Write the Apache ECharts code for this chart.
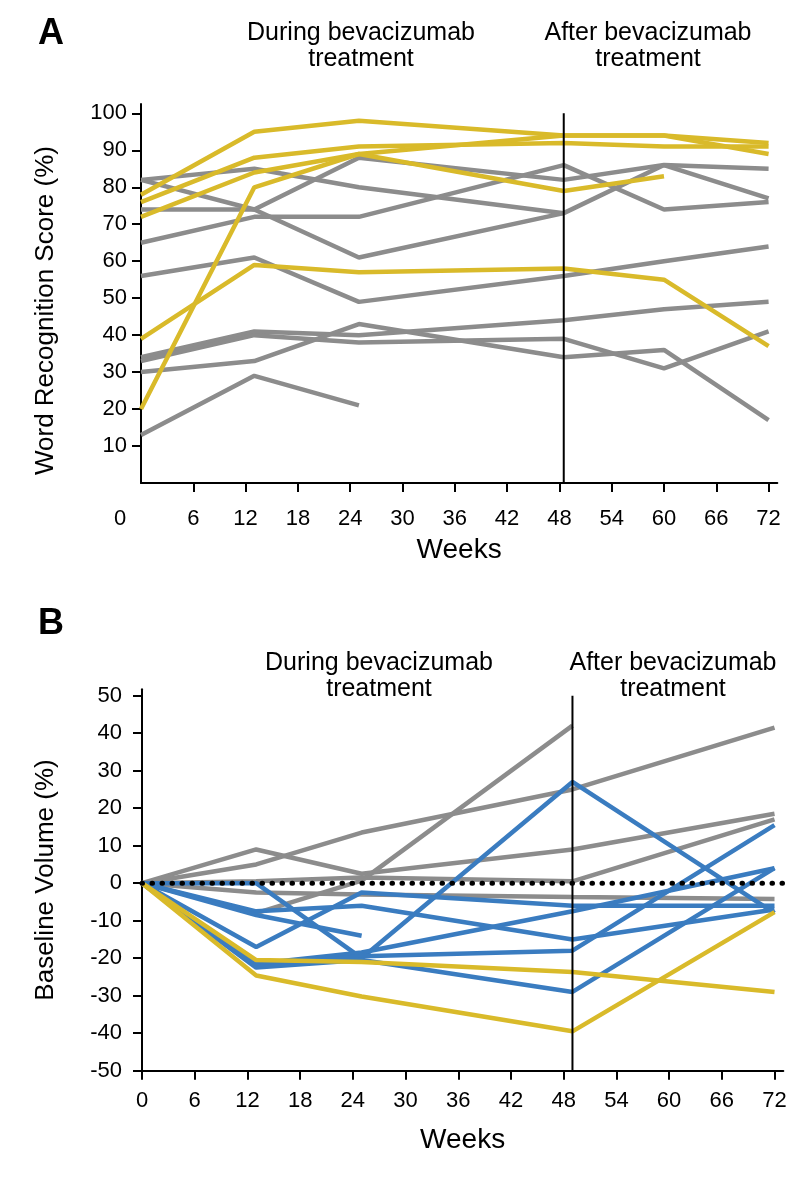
<!DOCTYPE html>
<html>
<head>
<meta charset="utf-8">
<script src="https://cdn.jsdelivr.net/npm/echarts@6/dist/echarts.min.js"></script>
<style>
html,body{margin:0;padding:0;background:#fff;}
#chart{width:809px;height:1179px;}
</style>
</head>
<body>
<div id="chart"></div>
<script>
// ---------- Panel A: word recognition score ----------
var weeksA = [0, 13, 25, 48.5, 60, 72];
var yellowA1 = [78, 95, 98, 94, 94, 92];
var yellowA2 = [76, 88, 91, 92, 91, 91];
var yellowA3 = [72, 84, 89, 94, 94, 89];
var yellowA4 = [20, 80, 89, 79, 83, null];
var yellowA5 = [39, 59, 57, 58, 55, 37];
var grayA1 = [82, 85, 80, 73, null, null];
var grayA2 = [82, 74, 61, 73, 86, 77];
var grayA3 = [74, 74, 88, 82, 86, 85];
var grayA4 = [65, 72, 72, 86, 74, 76];
var grayA5 = [56, 61, 49, 56, 60, 64];
var grayA6 = [34, 41, 40, 44, 47, 49];
var grayA7 = [33, 40, 38, 39, 31, 41];
var grayA8 = [30, 33, 43, 34, 36, 17];
var grayA9 = [13, 29, 21, null, null, null];
var yTicksA = [10, 20, 30, 40, 50, 60, 70, 80, 90, 100];
var xTicksA = [6, 12, 18, 24, 30, 36, 42, 48, 54, 60, 66, 72];
var xLabelsA = [0, 6, 12, 18, 24, 30, 36, 42, 48, 54, 60, 66, 72];
var boundaryA = 48.5;

// ---------- Panel B: baseline volume ----------
var weeksB = [0, 13, 25, 49, 72];
var yellowB1 = [0, -20.5, -21, -23.7, -29];
var yellowB2 = [0, -24.6, -30.2, -39.5, -7.7];
var blueB1 = [0, 0, -20, 27, -8];
var blueB2 = [0, -17, -2.5, -6, -6];
var blueB3 = [0, -7.5, -6, -15, -7];
var blueB4 = [0, -8.5, -14, null, null];
var blueB5 = [0, -21.5, -18.5, -7.5, 4];
var blueB6 = [0, -22, -19.5, -18, 15.5];
var blueB7 = [0, -22.5, -20.5, -29, 4];
var grayB1 = [0, 9, 2.5, 9, 18.5];
var grayB2 = [0, 5, 13.5, 25, 41.5];
var grayB3 = [0, -8, 0.7, 42, null];
var grayB4 = [0, 0.5, 1.5, 0.5, 17];
var grayB5 = [0, -2.5, -3, -3.7, -4.2];
var xTicksB = [0, 6, 12, 18, 24, 30, 36, 42, 48, 54, 60, 66, 72];
var yTicksB = [-50, -40, -30, -20, -10, 0, 10, 20, 30, 40, 50];
var boundaryB = 49;
var zeroRefB = [0, 73];

var YELLOW = '#D9BA2A', GRAY = '#8C8C8C', BLUE = '#3A7CC0';
var FONT = '"Liberation Sans", Arial, Helvetica, sans-serif';
var TICK_FS = 22;

function lineSeries(weeks, vals, color, gi) {
  var d = [];
  for (var i = 0; i < weeks.length; i++) {
    if (vals[i] !== null) d.push([weeks[i], vals[i]]);
  }
  return {
    type: 'line', xAxisIndex: gi, yAxisIndex: gi, data: d,
    symbol: 'none', silent: true, animation: false,
    lineStyle: { color: color, width: 4.5, cap: 'butt', join: 'bevel' }
  };
}

var series = [];
[grayA1, grayA2, grayA3, grayA4, grayA5, grayA6, grayA7, grayA8, grayA9].forEach(function (v) { series.push(lineSeries(weeksA, v, GRAY, 0)); });
[yellowA1, yellowA2, yellowA3, yellowA4, yellowA5].forEach(function (v) { series.push(lineSeries(weeksA, v, YELLOW, 0)); });
[grayB1, grayB2, grayB3, grayB4, grayB5].forEach(function (v) { series.push(lineSeries(weeksB, v, GRAY, 1)); });
[blueB1, blueB2, blueB3, blueB4, blueB5, blueB6, blueB7].forEach(function (v) { series.push(lineSeries(weeksB, v, BLUE, 1)); });
[yellowB1, yellowB2].forEach(function (v) { series.push(lineSeries(weeksB, v, YELLOW, 1)); });

// zero reference (dotted)
series.push({
  type: 'line', xAxisIndex: 1, yAxisIndex: 1, symbol: 'none', silent: true, animation: false, z: 5,
  data: zeroRefB.map(function (w) { return [w, 0]; }),
  lineStyle: { color: '#000', width: 5, type: [0.5, 9.5], cap: 'round' }
});
// treatment boundaries
series.push({
  type: 'line', xAxisIndex: 0, yAxisIndex: 0, symbol: 'none', silent: true, animation: false, z: 6,
  data: [[boundaryA, 0], [boundaryA, 100]],
  lineStyle: { color: '#000', width: 2 }
});
series.push({
  type: 'line', xAxisIndex: 1, yAxisIndex: 1, symbol: 'none', silent: true, animation: false, z: 6,
  data: [[boundaryB, -50], [boundaryB, 50]],
  lineStyle: { color: '#000', width: 2 }
});

var axisLineStyle = { show: true, onZero: false, lineStyle: { color: '#000', width: 2 } };
var labelStyle = { color: '#000', fontSize: TICK_FS, fontFamily: FONT };
var nameStyle = { color: '#000', fontSize: 28, fontFamily: FONT };
var tickStyle = { color: '#000', width: 2 };

var option = {
  animation: false,
  backgroundColor: '#fff',
  grid: [
    { left: 141, right: 31.7, top: 104.1, bottom: 696 },
    { left: 142, right: 25.7, top: 689.3, bottom: 108.3 }
  ],
  xAxis: [
    {
      type: 'value', gridIndex: 0, min: 0, max: 73, interval: 6,
      axisLine: axisLineStyle,
      axisTick: { show: true, length: 9, lineStyle: tickStyle, customValues: xTicksA },
      axisLabel: Object.assign({ margin: 25, customValues: xLabelsA,
        formatter: function (v) { return v === 0 ? '{z|0}' : String(v); },
        rich: { z: { fontSize: TICK_FS, fontFamily: FONT, color: '#000', padding: [0, 42, 0, 0] } } }, labelStyle),
      splitLine: { show: false },
      name: 'Weeks', nameLocation: 'middle', nameGap: 53, nameTextStyle: nameStyle
    },
    {
      type: 'value', gridIndex: 1, min: 0, max: 73, interval: 6,
      axisLine: axisLineStyle,
      axisTick: { show: true, length: 9, lineStyle: tickStyle, customValues: xTicksB },
      axisLabel: Object.assign({ margin: 19, customValues: xTicksB }, labelStyle),
      splitLine: { show: false },
      name: 'Weeks', nameLocation: 'middle', nameGap: 56, nameTextStyle: nameStyle
    }
  ],
  yAxis: [
    {
      type: 'value', gridIndex: 0, min: 0, max: 102.5, interval: 10,
      axisLine: axisLineStyle,
      axisTick: { show: true, length: 9, lineStyle: tickStyle, customValues: yTicksA },
      axisLabel: Object.assign({ margin: 14, customValues: yTicksA }, labelStyle),
      splitLine: { show: false },
      name: 'Word Recognition Score (%)', nameLocation: 'middle', nameGap: 82,
      nameTextStyle: { color: '#000', fontSize: 26, fontFamily: FONT, padding: [0, 34, 0, 0] }
    },
    {
      type: 'value', gridIndex: 1, min: -50, max: 51.7, interval: 10,
      axisLine: axisLineStyle,
      axisTick: { show: true, length: 9, lineStyle: tickStyle, customValues: yTicksB },
      axisLabel: Object.assign({ margin: 20, customValues: yTicksB }, labelStyle),
      splitLine: { show: false },
      name: 'Baseline Volume (%)', nameLocation: 'middle', nameGap: 83,
      nameTextStyle: { color: '#000', fontSize: 26, fontFamily: FONT }
    }
  ],
  graphic: [
    { type: 'text', left: 38, top: 16, style: { text: 'A', fontSize: 36, fontWeight: 'bold', fontFamily: FONT, fill: '#000' } },
    { type: 'text', left: 38, top: 606, style: { text: 'B', fontSize: 36, fontWeight: 'bold', fontFamily: FONT, fill: '#000' } },
    { type: 'text', x: 361, y: 33, style: { text: 'During bevacizumab', fontSize: 25, fontFamily: FONT, fill: '#000', align: 'center', verticalAlign: 'middle' } },
    { type: 'text', x: 361, y: 59, style: { text: 'treatment', fontSize: 25, fontFamily: FONT, fill: '#000', align: 'center', verticalAlign: 'middle' } },
    { type: 'text', x: 648, y: 33, style: { text: 'After bevacizumab', fontSize: 25, fontFamily: FONT, fill: '#000', align: 'center', verticalAlign: 'middle' } },
    { type: 'text', x: 648, y: 59, style: { text: 'treatment', fontSize: 25, fontFamily: FONT, fill: '#000', align: 'center', verticalAlign: 'middle' } },
    { type: 'text', x: 379, y: 663, style: { text: 'During bevacizumab', fontSize: 25, fontFamily: FONT, fill: '#000', align: 'center', verticalAlign: 'middle' } },
    { type: 'text', x: 379, y: 689, style: { text: 'treatment', fontSize: 25, fontFamily: FONT, fill: '#000', align: 'center', verticalAlign: 'middle' } },
    { type: 'text', x: 673, y: 663, style: { text: 'After bevacizumab', fontSize: 25, fontFamily: FONT, fill: '#000', align: 'center', verticalAlign: 'middle' } },
    { type: 'text', x: 673, y: 689, style: { text: 'treatment', fontSize: 25, fontFamily: FONT, fill: '#000', align: 'center', verticalAlign: 'middle' } }
  ],
  series: series
};

var chart = echarts.init(document.getElementById('chart'), null, { renderer: 'canvas' });
chart.setOption(option);
</script>
</body>
</html>
